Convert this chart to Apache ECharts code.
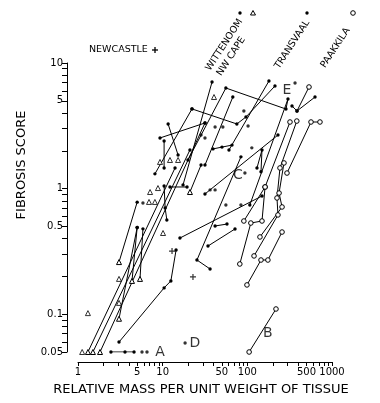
<!DOCTYPE html>
<html><head><meta charset="utf-8">
<script src="https://cdn.jsdelivr.net/npm/echarts@6/dist/echarts.min.js"></script>
<style>html,body{margin:0;padding:0;background:#fff}#c{width:380px;height:403px}</style>
</head><body><div id="c"></div>
<script>
// ---- axis ticks / labels ----
const xTickValues = [1,2,3,4,5,6,7,8,9,10,20,30,40,50,60,70,80,90,100,200,300,400,500,600,700,800,900,1000];
const xTickLabels = [1,5,10,50,100,500,1000];
const yTickValues = [0.05,0.06,0.07,0.08,0.09,0.1,0.2,0.3,0.4,0.5,0.6,0.7,0.8,0.9,1,2,3,4,5,6,7,8,9,10];
const yTickLabels = [0.05,0.1,0.5,1,5,10];

// ---- connected observations: [x, y, marker]  d=dot, t=open triangle, c=open circle ----
const nwCapeLines = [
  [[1.31,0.05,'t'],[14.0,1.46,'d']],
  [[1.50,0.05,'t'],[21.0,2.03,'d']],
  [[1.82,0.05,'t'],[31.6,3.33,'d']],
  [[3.05,0.26,'t'],[5.0,0.78,'d']],
  [[3.05,0.092,'t'],[5.0,0.49,'d']],
  [[4.34,0.184,'t'],[5.0,0.49,'d']],
  [[5.4,0.191,'t'],[5.85,0.478,'d']],
  [[21.0,0.939,'t'],[28.4,1.54,'d']]
];
const wittenoomLines = [
  [[3.05,0.060,'d'],[10.4,0.162,'d'],[12.5,0.184,'d'],[14.4,0.324,'d']],
  [[2.45,0.05,'d'],[3.59,0.05,'d'],[4.59,0.05,'d']],
  [[8.1,1.31,'d'],[22.2,4.31,'d']],
  [[9.3,2.53,'d'],[31.6,3.33,'d']],
  [[11.6,3.27,'d'],[15.2,1.85,'d']],
  [[10.4,2.39,'d'],[10.4,1.46,'d']],
  [[12.2,1.03,'d'],[19.4,1.03,'d']],
  [[10.4,1.05,'d'],[10.7,0.70,'d'],[11.2,0.562,'d']],
  [[38.3,7.06,'d'],[17.4,1.07,'d']],
  [[39.3,2.07,'d'],[50.2,2.14,'d'],[65.9,2.22,'d']],
  [[41.6,0.504,'d'],[57.5,0.522,'d']],
  [[34.3,0.349,'d'],[71.5,0.477,'d']],
  [[16.0,0.404,'d'],[149,0.873,'d']],
  [[84,1.79,'d'],[25.4,0.270,'d'],[36.3,0.229,'d']]
];
const transvaalLines = [
  [[19.9,1.69,'d'],[55.8,6.32,'d'],[286,4.30,'d'],[302,5.17,'d'],[107,0.741,'d']],
  [[67.4,5.36,'d'],[31.6,1.54,'d']],
  [[22.2,4.31,'d'],[75.2,3.27,'d'],[96.4,3.72,'d'],[212,6.56,'d']],
  [[180,7.19,'d'],[60.7,2.03,'d']],
  [[230,2.67,'d'],[31.6,0.906,'d']],
  [[130,1.46,'d'],[149,2.03,'d'],[145,1.36,'d']]
];
const paakkilaLines = [
  [[319,3.39,'c'],[162,1.03,'c'],[91,0.552,'c']],
  [[162,1.03,'c'],[149,0.552,'c'],[110,0.532,'c'],[81.5,0.251,'c']],
  [[384,3.45,'c'],[243,1.46,'c'],[224,0.842,'c'],[230,0.617,'c'],[120,0.291,'c']],
  [[721,3.39,'c'],[565,3.39,'c'],[294,1.33,'c']],
  [[271,1.60,'c'],[237,0.922,'c'],[257,0.714,'c'],[141,0.412,'c']],
  [[257,0.451,'c'],[175,0.270,'c'],[145,0.270,'c'],[99,0.171,'c']],
  [[218,0.110,'c'],[105,0.050,'c']],
  [[535,6.44,'c'],[386,4.15,'d']],
  [[337,4.55,'d'],[386,4.15,'d'],[630,5.36,'d']]
];

// ---- single (unconnected) observations ----
const singleDots = [[5.70,0.05],[6.53,0.05],[5.85,0.768],[55.8,0.741],[84,0.741],[91,4.15],[113,2.11],
  [93.6,1.33],[366,6.93],[41.6,3.09],[51.4,3.09],[31.6,2.53],[102,3.15],[41.6,0.976],[36.3,0.976],
  [28.4,2.67],[18.4,0.059]];
const singleTriangles = [[1.12,0.05],[1.31,0.102],[3.05,0.191],[3.05,0.123],[6.9,0.783],[8.1,0.783],
  [7.1,0.939],[8.8,1.01],[9.3,1.63],[12.2,1.69],[15.2,1.69],[10.1,0.443],[40.4,5.36]];
const newcastlePlus = [[12.9,0.318],[22.8,0.198]];

// ---- letter annotations ----
const letterNotes = [[9.3,0.05,'A'],[175,0.0708,'B'],[77.6,1.28,'C'],[24.1,0.059,'D'],[294,6.10,'E']];

const plusPath = 'path://M4,0H6V4H10V6H6V10H4V6H0V4H4Z';
const markerStyle = {
  d: {symbol:'circle', symbolSize:3.4, itemStyle:{color:'#000', borderWidth:0}},
  t: {symbol:'triangle', symbolSize:5, itemStyle:{color:'#fff', borderColor:'#000', borderWidth:1}},
  c: {symbol:'circle', symbolSize:4.6, itemStyle:{color:'#fff', borderColor:'#000', borderWidth:1}},
  p: {symbol:plusPath, symbolSize:6, itemStyle:{color:'#000', borderWidth:0}}
};

const series = [];
[nwCapeLines, wittenoomLines, transvaalLines, paakkilaLines].forEach(group => {
  group.forEach(line => {
    series.push({
      type:'line', silent:true, animation:false, z:2,
      lineStyle:{color:'#000', width:1},
      showSymbol:true, showAllSymbol:true,
      data: line.map(p => Object.assign({value:[p[0],p[1]]}, JSON.parse(JSON.stringify(markerStyle[p[2]]))))
    });
  });
});
function scatterOf(pts, m) {
  const s = markerStyle[m];
  return {type:'scatter', silent:true, animation:false, z:3, symbol:s.symbol, symbolSize:s.symbolSize,
    itemStyle:s.itemStyle, data: pts};
}
series.push(scatterOf(singleDots,'d'));
series.push(scatterOf(singleTriangles,'t'));
series.push(scatterOf(newcastlePlus,'p'));
series.push({type:'scatter', silent:true, animation:false, z:4, symbolSize:0,
  data: letterNotes,
  label:{show:true, position:'inside', formatter: p => p.value[2], color:'#000',
    fontSize:14, fontFamily:'DejaVu Sans'}});

const font = 'DejaVu Sans';
const deg = Math.PI/180;
const graphic = [
  {type:'text', x:201, y:390, style:{text:'RELATIVE MASS PER UNIT WEIGHT OF TISSUE', fill:'#000', font:'13px '+font, align:'center', verticalAlign:'middle'}},
  {type:'text', x:22, y:165, rotation:Math.PI/2, style:{text:'FIBROSIS SCORE', fill:'#000', font:'13px '+font, align:'center', verticalAlign:'middle'}},
  {type:'text', x:89, y:50, style:{text:'NEWCASTLE', fill:'#000', font:'9.5px '+font, align:'left', verticalAlign:'middle'}},
  {type:'text', x:208, y:70, rotation:57*deg, style:{text:'WITTENOOM', fill:'#000', font:'9.5px '+font, align:'left', verticalAlign:'middle'}},
  {type:'text', x:219, y:75, rotation:57*deg, style:{text:'NW CAPE', fill:'#000', font:'9.5px '+font, align:'left', verticalAlign:'middle'}},
  {type:'text', x:277, y:68, rotation:57*deg, style:{text:'TRANSVAAL', fill:'#000', font:'9.5px '+font, align:'left', verticalAlign:'middle'}},
  {type:'text', x:323, y:67, rotation:57*deg, style:{text:'PAAKKILA', fill:'#000', font:'9.5px '+font, align:'left', verticalAlign:'middle'}},
  {type:'line', shape:{x1:152, y1:50, x2:158, y2:50}, style:{stroke:'#000', lineWidth:1.3}},
  {type:'line', shape:{x1:155, y1:47, x2:155, y2:53}, style:{stroke:'#000', lineWidth:1.3}},
  {type:'circle', shape:{cx:240, cy:13, r:1.7}, style:{fill:'#000'}},
  {type:'polygon', shape:{points:[[253,10.5],[255.5,15],[250.5,15]]}, style:{fill:'#fff', stroke:'#000', lineWidth:1}},
  {type:'circle', shape:{cx:307, cy:13, r:1.7}, style:{fill:'#000'}},
  {type:'circle', shape:{cx:353, cy:13, r:2.3}, style:{fill:'#fff', stroke:'#000', lineWidth:1}}
];

const chart = echarts.init(document.getElementById('c'), null, {renderer:'canvas'});
chart.setOption({
  animation:false,
  backgroundColor:'#fff',
  grid:{left:78, right:48, top:63, bottom:51},
  xAxis:{type:'log', logBase:10, min:1, max:1000, offset:10,
    axisLine:{show:true, onZero:false, lineStyle:{color:'#000', width:1}},
    axisTick:{show:true, customValues:xTickValues, length:4, lineStyle:{color:'#000', width:1}},
    axisLabel:{customValues:xTickLabels, formatter: v => String(Math.round(v)), color:'#000', fontSize:10, fontFamily:font, margin:5},
    splitLine:{show:false}},
  yAxis:{type:'log', logBase:10, min:0.05, max:10, offset:11,
    axisLine:{show:true, onZero:false, lineStyle:{color:'#000', width:1}},
    axisTick:{show:true, customValues:yTickValues, length:5, lineStyle:{color:'#000', width:1}},
    axisLabel:{customValues:yTickLabels, formatter: v => String(+v.toPrecision(3)), color:'#000', fontSize:10, fontFamily:font, margin:4},
    splitLine:{show:false}},
  graphic: graphic,
  series: series
});
</script></body></html>
